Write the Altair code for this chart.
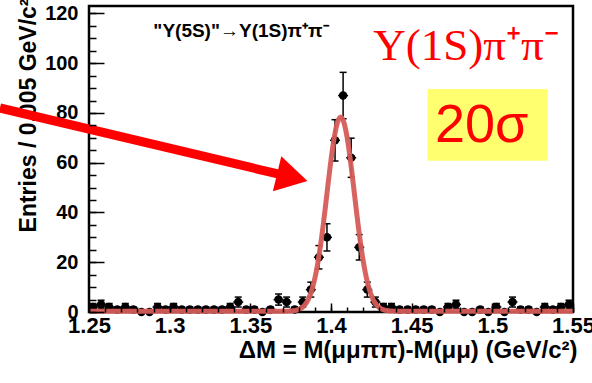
import altair as alt
import pandas as pd

# ---------------- data ----------------
bin_centers = [
    1.2525, 1.2575, 1.2625, 1.2675, 1.2725, 1.2775, 1.2825, 1.2875, 1.2925, 1.2975,
    1.3025, 1.3075, 1.3125, 1.3175, 1.3225, 1.3275, 1.3325, 1.3375, 1.3425, 1.3475,
    1.3525, 1.3575, 1.3625, 1.3675, 1.3725, 1.3775, 1.3825, 1.3875, 1.3925, 1.3975,
    1.4025, 1.4075, 1.4125, 1.4175, 1.4225, 1.4275, 1.4325, 1.4375, 1.4425, 1.4475,
    1.4525, 1.4575, 1.4625, 1.4675, 1.4725, 1.4775, 1.4825, 1.4875, 1.4925, 1.4975,
    1.5025, 1.5075, 1.5125, 1.5175, 1.5225, 1.5275, 1.5325, 1.5375, 1.5425, 1.5475,
]
counts = [
    2, 3, 2, 1, 2, 1, 0, 0, 2, 1,
    2, 1, 1, 1, 1, 1, 1, 2, 4, 1,
    1, 0, 1, 5, 4, 1, 4, 9, 22, 30,
    69, 87, 62, 26, 9, 4, 2, 2, 1, 1,
    1, 1, 1, 0, 2, 3, 0, 0, 1, 0,
    2, 0, 4, 1, 1, 0, 2, 1, 2, 3,
]

# fit parameters (gaussian + flat background)
FIT_AMP, FIT_MEAN, FIT_SIGMA, FIT_BKG = 78.0, 1.406, 0.0085, 0.3

x_major = [1.25, 1.3, 1.35, 1.4, 1.45, 1.5, 1.55]
x_minor = [round(1.25 + 0.01 * i, 2) for i in range(31)]
y_major = [0, 20, 40, 60, 80, 100, 120]
y_minor = list(range(0, 125, 5))

x_title = "ΔM = M(μμππ)-M(μμ) (GeV/c²)"
y_title = "Entries / 0.005 GeV/c²"
label_small = "\"Υ(5S)\"→Υ(1S)π⁺π⁻"
label_big = "Υ(1S)π⁺π⁻"
label_sigma = "20σ"

# annotation anchors (data coordinates)
arrow_x = [1.1948, 1.3684]
arrow_y = [82.0, 55.3]
head_x, head_y = [1.3760], [54.1]
box_x, box_x2, box_y, box_y2 = [1.4599], [1.5343], [89.6], [60.8]

# ---------------- chart ----------------
W, H = 484, 306
FONT = "Liberation Sans"
FIT_COLOR = "#d65c58"

xs = alt.Scale(domain=[1.25, 1.55], nice=False, zero=False)
ys = alt.Scale(domain=[0, 123], nice=False, zero=False)

df = pd.DataFrame({"x": bin_centers, "n": counts})
df["lo"] = df["n"] - df["n"] ** 0.5
df["hi"] = df["n"] + df["n"] ** 0.5
df_err = df[df["n"] > 0]

x_main_axis = alt.Axis(
    orient="bottom", values=x_major, format=".2~f",
    labelFont=FONT, labelFontWeight="bold", labelFontSize=22, labelColor="black",
    labelPadding=3, labelFlush=False, labelOverlap=False,
    ticks=False, tickSize=0, domain=False, grid=False,
    title=x_title, titleFont=FONT, titleFontWeight="bold", titleFontSize=24,
    titleColor="black", titleX=W + 4, titleY=45, titleAlign="right",
    titleBaseline="alphabetic", titleAngle=0,
)
y_main_axis = alt.Axis(
    orient="left", values=y_major, format="d",
    labelFont=FONT, labelFontWeight="bold", labelFontSize=20, labelColor="black",
    labelPadding=11, labelFlush=False, labelOverlap=False,
    ticks=False, tickSize=0, domain=False, grid=False,
    title=y_title, titleFont=FONT, titleFontWeight="bold", titleFontSize=23,
    titleColor="black", titleX=-54, titleY=-8, titleAlign="right",
    titleBaseline="alphabetic", titleAngle=270,
)
x_tick_axis = alt.Axis(orient="top", offset=-H, values=x_major, labels=False,
                       tickSize=9, tickWidth=1.5, tickColor="black",
                       domain=False, grid=False, title=None, zindex=1)
x_minor_axis = alt.Axis(orient="top", offset=-H, values=x_minor, labels=False,
                        tickSize=5, tickWidth=1.5, tickColor="black",
                        domain=False, grid=False, title=None, zindex=1)
y_tick_axis = alt.Axis(orient="right", offset=-W, values=y_major, labels=False,
                       tickSize=15, tickWidth=1.5, tickColor="black",
                       domain=False, grid=False, title=None, zindex=1)
y_minor_axis = alt.Axis(orient="right", offset=-W, values=y_minor, labels=False,
                        tickSize=7, tickWidth=1.5, tickColor="black",
                        domain=False, grid=False, title=None, zindex=1)

points = alt.Chart(df).mark_circle(size=72, color="black", opacity=1).encode(
    x=alt.X("x:Q", scale=xs, axis=x_main_axis),
    y=alt.Y("n:Q", scale=ys, axis=y_main_axis),
)
hbars = alt.Chart(df).mark_tick(orient="horizontal", size=10, thickness=1.5,
                                color="black", opacity=1).encode(
    x=alt.X("x:Q", scale=xs, axis=None),
    y=alt.Y("n:Q", scale=ys, axis=None),
)
errbars = alt.Chart(df_err).mark_rule(color="black", strokeWidth=1.5).encode(
    x=alt.X("x:Q", scale=xs, axis=x_tick_axis),
    y=alt.Y("lo:Q", scale=ys, axis=y_tick_axis),
    y2="hi:Q",
)
caps_hi = alt.Chart(df_err).mark_tick(orient="horizontal", size=7, thickness=1.5,
                                      color="black", opacity=1).encode(
    x=alt.X("x:Q", scale=xs, axis=x_minor_axis),
    y=alt.Y("hi:Q", scale=ys, axis=y_minor_axis),
)
caps_lo = alt.Chart(df_err).mark_tick(orient="horizontal", size=7, thickness=1.5,
                                      color="black", opacity=1).encode(
    x=alt.X("x:Q", scale=xs, axis=None),
    y=alt.Y("lo:Q", scale=ys, axis=None),
)

fit = alt.Chart(alt.sequence(1.25, 1.5501, 0.0005, as_="x")).transform_calculate(
    y=f"{FIT_AMP}*exp(-0.5*pow((datum.x-{FIT_MEAN})/{FIT_SIGMA},2))+{FIT_BKG}"
).mark_line(color=FIT_COLOR, strokeWidth=5, opacity=0.95).encode(
    x=alt.X("x:Q", scale=xs, axis=None),
    y=alt.Y("y:Q", scale=ys, axis=None),
)

arrow_line = alt.Chart(pd.DataFrame({"x": arrow_x, "y": arrow_y})).mark_line(
    color="#ff0000", strokeWidth=9, strokeCap="butt"
).encode(x=alt.X("x:Q", scale=xs, axis=None), y=alt.Y("y:Q", scale=ys, axis=None))

arrow_head = alt.Chart(pd.DataFrame({"x": head_x, "y": head_y})).mark_point(
    shape="triangle-right", size=1300, angle=13.5, filled=True,
    color="#ff0000", opacity=1, strokeWidth=0
).encode(x=alt.X("x:Q", scale=xs, axis=None), y=alt.Y("y:Q", scale=ys, axis=None))

box = alt.Chart(pd.DataFrame({"x": box_x, "x2": box_x2, "y": box_y, "y2": box_y2})).mark_rect(
    color="#ffff70"
).encode(x=alt.X("x:Q", scale=xs, axis=None), x2="x2:Q",
         y=alt.Y("y:Q", scale=ys, axis=None), y2="y2:Q")

texts = pd.DataFrame({
    "x": [1.2899, 1.4262, 1.4645],
    "y": [110.4, 101.3, 68.4],
    "t": [label_small, label_big, label_sigma],
})
t_small = alt.Chart(texts.iloc[[0]]).mark_text(
    align="left", baseline="alphabetic", font=FONT, fontWeight="bold",
    fontSize=19, color="black"
).encode(x=alt.X("x:Q", scale=xs, axis=None), y=alt.Y("y:Q", scale=ys, axis=None), text="t:N")
t_big = alt.Chart(texts.iloc[[1]]).mark_text(
    align="left", baseline="alphabetic", font="Liberation Serif",
    fontSize=45, color="#ff0000"
).encode(x=alt.X("x:Q", scale=xs, axis=None), y=alt.Y("y:Q", scale=ys, axis=None), text="t:N")
t_sigma = alt.Chart(texts.iloc[[2]]).mark_text(
    align="left", baseline="alphabetic", font=FONT,
    fontSize=54, color="#ff0000"
).encode(x=alt.X("x:Q", scale=xs, axis=None), y=alt.Y("y:Q", scale=ys, axis=None), text="t:N")

chart = alt.layer(
    points, hbars, errbars, caps_hi, caps_lo, fit,
    box, t_small, t_big, t_sigma, arrow_line, arrow_head,
).properties(
    width=W, height=H,
    autosize=alt.AutoSizeParams(type="none"),
    padding={"left": 89, "top": 6, "right": 19, "bottom": 71},
).configure(background="white").configure_view(stroke="black", strokeWidth=2.5)

chart.save("out.html", embed_options={"renderer": "svg", "actions": False})
